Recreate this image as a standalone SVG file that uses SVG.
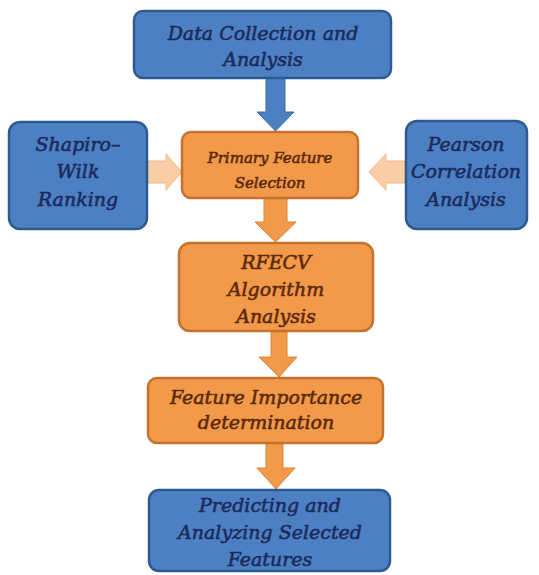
<svg xmlns="http://www.w3.org/2000/svg" width="539" height="575" viewBox="0 0 539 575">
<style>
.blue{fill:#4D80C2;stroke:#2E5B8F;stroke-width:2.5}
.orange{fill:#F39A4A;stroke:#C4722E;stroke-width:2.5}
text{font-family:'DejaVu Serif',serif;font-style:italic;text-anchor:middle}
.tb{fill:#1B2B5E;stroke:#1B2B5E;stroke-width:0.6}
.to{fill:#5B2A0E;stroke:#5B2A0E;stroke-width:0.6}
.ab{fill:#4D80C2;stroke:#3A6AA3;stroke-width:1}
.ao{fill:#F39A4A;stroke:#D98434;stroke-width:1}
.ap{fill:#F9CDA6;stroke:#F2B888;stroke-width:1}
</style>
<rect width="539" height="575" fill="#ffffff"/>
<g id="connectors">
<polygon class="ab" points="266,78 285,78 285,112 294,112 275.5,131 257,112 266,112"/>
<polygon class="ao" points="264,198 287,198 287,222 296,222 275.5,242 255,222 264,222"/>
<polygon class="ao" points="271,331 287,331 287,357 297,357 279,377 259,357 271,357"/>
<polygon class="ao" points="266,443 283,443 283,468 295,468 276,489 257,468 266,468"/>
<polygon class="ap" points="147,161 166,161 166,154 182,172 166,190 166,183 147,183"/>
<polygon class="ap" points="405,161 386,161 386,154 369,172 386,190 386,183 405,183"/>
</g>
<g id="n-data">
<rect class="blue" x="134" y="11" width="257" height="67" rx="9"/>
<text class="tb" font-size="19" x="263" y="40">Data Collection and</text>
<text class="tb" font-size="19" x="263" y="66">Analysis</text>
</g>
<g id="n-shapiro">
<rect class="blue" x="9" y="122" width="138" height="107" rx="11"/>
<text class="tb" font-size="19" x="78" y="151">Shapiro–</text>
<text class="tb" font-size="19" x="78" y="178">Wilk</text>
<text class="tb" font-size="19" x="78" y="206">Ranking</text>
</g>
<g id="n-pearson">
<rect class="blue" x="406" y="121" width="121" height="108" rx="11"/>
<text class="tb" font-size="19" x="466" y="151">Pearson</text>
<text class="tb" font-size="19" x="466" y="178">Correlation</text>
<text class="tb" font-size="19" x="466" y="206">Analysis</text>
</g>
<g id="n-primary">
<rect class="orange" x="182" y="132" width="176" height="66" rx="9"/>
<text class="to" font-size="15" x="270" y="163">Primary Feature</text>
<text class="to" font-size="15" x="270" y="188">Selection</text>
</g>
<g id="n-rfecv">
<rect class="orange" x="179" y="243" width="194" height="88" rx="11"/>
<text class="to" font-size="19" x="276" y="269">RFECV</text>
<text class="to" font-size="19" x="276" y="296">Algorithm</text>
<text class="to" font-size="19" x="276" y="323">Analysis</text>
</g>
<g id="n-importance">
<rect class="orange" x="148" y="378" width="235" height="65" rx="9"/>
<text class="to" font-size="19" x="266" y="404">Feature Importance</text>
<text class="to" font-size="19" x="266" y="429">determination</text>
</g>
<g id="n-predict">
<rect class="blue" x="149" y="490" width="241" height="81" rx="10"/>
<text class="tb" font-size="19" x="270" y="512">Predicting and</text>
<text class="tb" font-size="19" x="270" y="539">Analyzing Selected</text>
<text class="tb" font-size="19" x="270" y="566">Features</text>
</g>
</svg>
